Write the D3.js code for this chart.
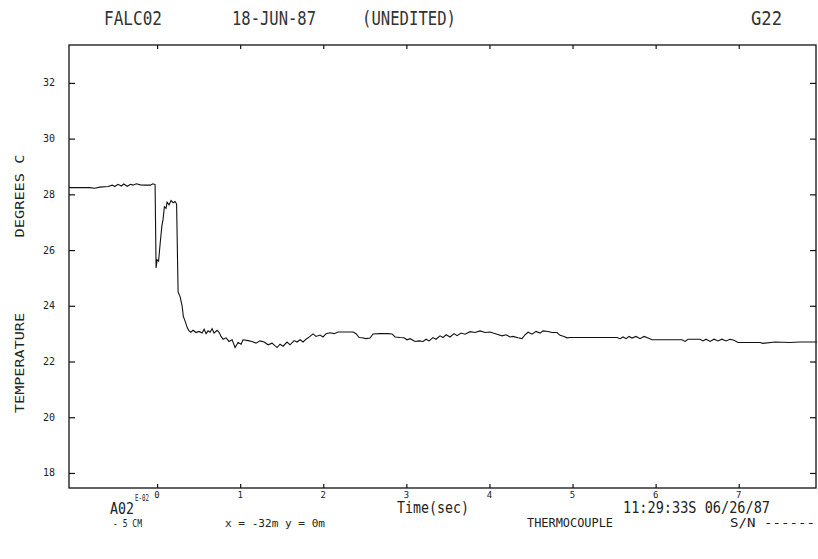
<!DOCTYPE html>
<html>
<head>
<meta charset="utf-8">
<script src="https://cdn.jsdelivr.net/npm/d3@7"></script>
<style>
  body { margin: 0; background: #fff; }
  text { font-family: "DejaVu Sans Mono", monospace; fill: #222; }
</style>
</head>
<body>
<div id="chart"></div>
<script>
// time (sec) and temperature (deg C)
var times = [-1.06, -0.81, -0.75, -0.69, -0.59, -0.54, -0.51, -0.47, -0.43, -0.40, -0.36, -0.32, -0.29, -0.25, -0.20, -0.14, -0.08, -0.05,
    -0.024, -0.012, 0.0, 0.018, 0.036, 0.057, 0.072, 0.088, 0.108, 0.120, 0.144, 0.168, 0.193, 0.217, 0.235, 0.247, 0.253, 0.277, 0.301, 0.316,
    0.337, 0.365, 0.385, 0.406, 0.433, 0.469, 0.505, 0.542, 0.566, 0.590, 0.614, 0.638, 0.662, 0.686, 0.722, 0.746, 0.770, 0.794, 0.830,
    0.866, 0.903, 0.939, 0.975, 1.011, 1.035, 1.095, 1.143, 1.191, 1.239, 1.288, 1.336, 1.384, 1.444, 1.480, 1.516, 1.564, 1.600, 1.649,
    1.685, 1.721, 1.757, 1.793, 1.841, 1.877, 1.913, 1.961, 1.997, 2.034, 2.082, 2.130, 2.178, 2.262, 2.359, 2.395, 2.431, 2.467, 2.515,
    2.563, 2.599, 2.683, 2.768, 2.828, 2.864, 2.924, 2.972, 3.008, 3.045, 3.105, 3.153, 3.201, 3.237, 3.273, 3.321, 3.357, 3.405, 3.442,
    3.478, 3.526, 3.574, 3.610, 3.658, 3.706, 3.767, 3.827, 3.887, 3.947, 4.007, 4.043, 4.091, 4.152, 4.200, 4.248, 4.284, 4.344, 4.392,
    4.428, 4.465, 4.513, 4.561, 4.609, 4.645, 4.705, 4.753, 4.813, 4.850, 4.898, 4.934, 4.970, 5.535, 5.572, 5.608, 5.644, 5.680, 5.716,
    5.764, 5.812, 5.860, 5.909, 5.957, 6.318, 6.354, 6.390, 6.534, 6.570, 6.606, 6.655, 6.703, 6.751, 6.799, 6.847, 6.895, 6.943, 6.992,
    7.256, 7.292, 7.437, 7.617, 7.738, 7.942];
var temps = [28.24, 28.24, 28.22, 28.26, 28.28, 28.33, 28.28, 28.36, 28.30, 28.37, 28.29, 28.36, 28.33, 28.38, 28.34, 28.33, 28.33, 28.38,
    28.35, 25.36, 25.65, 25.60, 26.20, 26.85, 27.10, 27.56, 27.50, 27.72, 27.62, 27.78, 27.70, 27.74, 27.65, 25.50, 24.50, 24.33, 24.00, 23.62,
    23.45, 23.20, 23.10, 23.05, 23.12, 23.04, 23.08, 23.02, 23.16, 23.00, 23.10, 23.05, 23.18, 23.02, 23.12, 23.05, 22.90, 22.80, 22.85,
    22.72, 22.78, 22.50, 22.68, 22.62, 22.78, 22.75, 22.72, 22.66, 22.74, 22.70, 22.60, 22.66, 22.50, 22.62, 22.55, 22.70, 22.60, 22.75,
    22.70, 22.78, 22.70, 22.80, 22.90, 22.99, 22.90, 22.95, 22.88, 23.00, 23.03, 23.00, 23.06, 23.06, 23.06, 23.00, 22.86, 22.85, 22.82,
    22.84, 22.99, 23.00, 23.00, 22.99, 22.88, 22.86, 22.85, 22.78, 22.82, 22.72, 22.74, 22.72, 22.80, 22.74, 22.86, 22.80, 22.92, 22.86,
    22.96, 22.88, 23.00, 22.93, 23.02, 22.98, 23.07, 23.04, 23.10, 23.04, 23.06, 23.02, 22.98, 22.92, 22.96, 22.88, 22.90, 22.85, 22.82,
    22.96, 23.05, 22.98, 23.08, 23.02, 23.10, 23.08, 23.04, 23.04, 22.94, 22.90, 22.85, 22.86, 22.86, 22.82, 22.88, 22.82, 22.90, 22.84,
    22.90, 22.82, 22.90, 22.84, 22.78, 22.78, 22.72, 22.80, 22.80, 22.74, 22.80, 22.72, 22.80, 22.74, 22.80, 22.74, 22.80, 22.76, 22.68,
    22.68, 22.65, 22.70, 22.68, 22.70, 22.70];

var xTicks = [0, 1, 2, 3, 4, 5, 6, 7];
var xTickLabels = ["0", "1", "2", "3", "4", "5", "6", "7"];
var yTicks = [18, 20, 22, 24, 26, 28, 30, 32];
var yTickLabels = ["18", "20", "22", "24", "26", "28", "30", "32"];

var width = 818,
    height = 559;
var plotL = 69, plotR = 816, plotT = 45, plotB = 488;

var svg = d3.select("#chart")
    .append("svg")
    .attr("width", width)
    .attr("height", height);

// scales
var x = d3.scaleLinear()
    .domain([-1.06, 7.93])
    .range([plotL, plotR]);
var y = d3.scaleLinear()
    .domain([17.46, 33.36])
    .range([plotB, plotT]);

// frame
svg.append("rect")
    .attr("x", plotL)
    .attr("y", plotT)
    .attr("width", plotR - plotL)
    .attr("height", plotB - plotT)
    .style("fill", "none")
    .style("stroke", "#111")
    .style("stroke-width", 1.3);

// inward ticks on all four sides
function tickStyle(g) {
    g.select(".domain").remove();
    g.selectAll(".tick line").style("stroke", "#111").style("stroke-width", 1.2);
}
svg.append("g")
    .attr("transform", "translate(0," + plotB + ")")
    .call(d3.axisTop(x).tickValues(xTicks).tickSize(4).tickFormat(""))
    .call(tickStyle);
svg.append("g")
    .attr("transform", "translate(0," + plotT + ")")
    .call(d3.axisBottom(x).tickValues(xTicks).tickSize(4).tickFormat(""))
    .call(tickStyle);
svg.append("g")
    .attr("transform", "translate(" + plotL + ",0)")
    .call(d3.axisRight(y).tickValues(yTicks).tickSize(6).tickFormat(""))
    .call(tickStyle);
svg.append("g")
    .attr("transform", "translate(" + plotR + ",0)")
    .call(d3.axisLeft(y).tickValues(yTicks).tickSize(6).tickFormat(""))
    .call(tickStyle);

// tick labels
svg.append("g").selectAll("text")
    .data(xTicks)
    .enter()
    .append("text")
    .attr("x", d => x(d))
    .attr("y", 498)
    .attr("text-anchor", "middle")
    .style("font-size", "9px")
    .text((d, i) => xTickLabels[i]);

svg.append("g").selectAll("text")
    .data(yTicks)
    .enter()
    .append("text")
    .attr("x", 55)
    .attr("y", d => y(d) + 3.5)
    .attr("text-anchor", "end")
    .style("font-size", "10px")
    .text((d, i) => yTickLabels[i]);

// trace
var line = d3.line()
    .x((d, i) => x(times[i]))
    .y(d => y(d));
svg.append("path")
    .attr("d", line(temps))
    .style("fill", "none")
    .style("stroke", "#111")
    .style("stroke-width", 1.1);

// texts
function label(str, px, py, size, len, anchor) {
    var t = svg.append("text")
        .attr("x", px)
        .attr("y", py)
        .style("font-size", size + "px")
        .text(str);
    if (len) t.attr("textLength", len).attr("lengthAdjust", "spacingAndGlyphs");
    if (anchor) t.attr("text-anchor", anchor);
    return t;
}
label("FALC02", 104, 25, 19, 58).style("fill", "#333");
label("18-JUN-87", 232, 25, 19, 84).style("fill", "#333");
label("(UNEDITED)", 362, 25, 19, 94).style("fill", "#333");
label("G22", 751, 25, 19, 31).style("fill", "#333");

label("A02", 110, 514, 15, 24);
label("E-02", 135, 501, 8, 14);
label("- 5 CM", 113, 527, 11, 29);
label("x = -32m   y = 0m", 225, 527, 10, 100);
label("Time(sec)", 397, 513, 15, 72);
label("11:29:33S 06/26/87", 623, 513, 15, 147);
label("THERMOCOUPLE", 527, 527, 13, 86);
label("S/N ------", 730, 527, 13, 85);

svg.append("text")
    .attr("transform", "translate(24,196) rotate(-90)")
    .attr("text-anchor", "middle")
    .attr("textLength", 83)
    .attr("lengthAdjust", "spacingAndGlyphs")
    .style("font-size", "13px")
    .text("DEGREES C");
svg.append("text")
    .attr("transform", "translate(24,363) rotate(-90)")
    .attr("text-anchor", "middle")
    .attr("textLength", 100)
    .attr("lengthAdjust", "spacingAndGlyphs")
    .style("font-size", "13px")
    .text("TEMPERATURE");
</script>
</body>
</html>
